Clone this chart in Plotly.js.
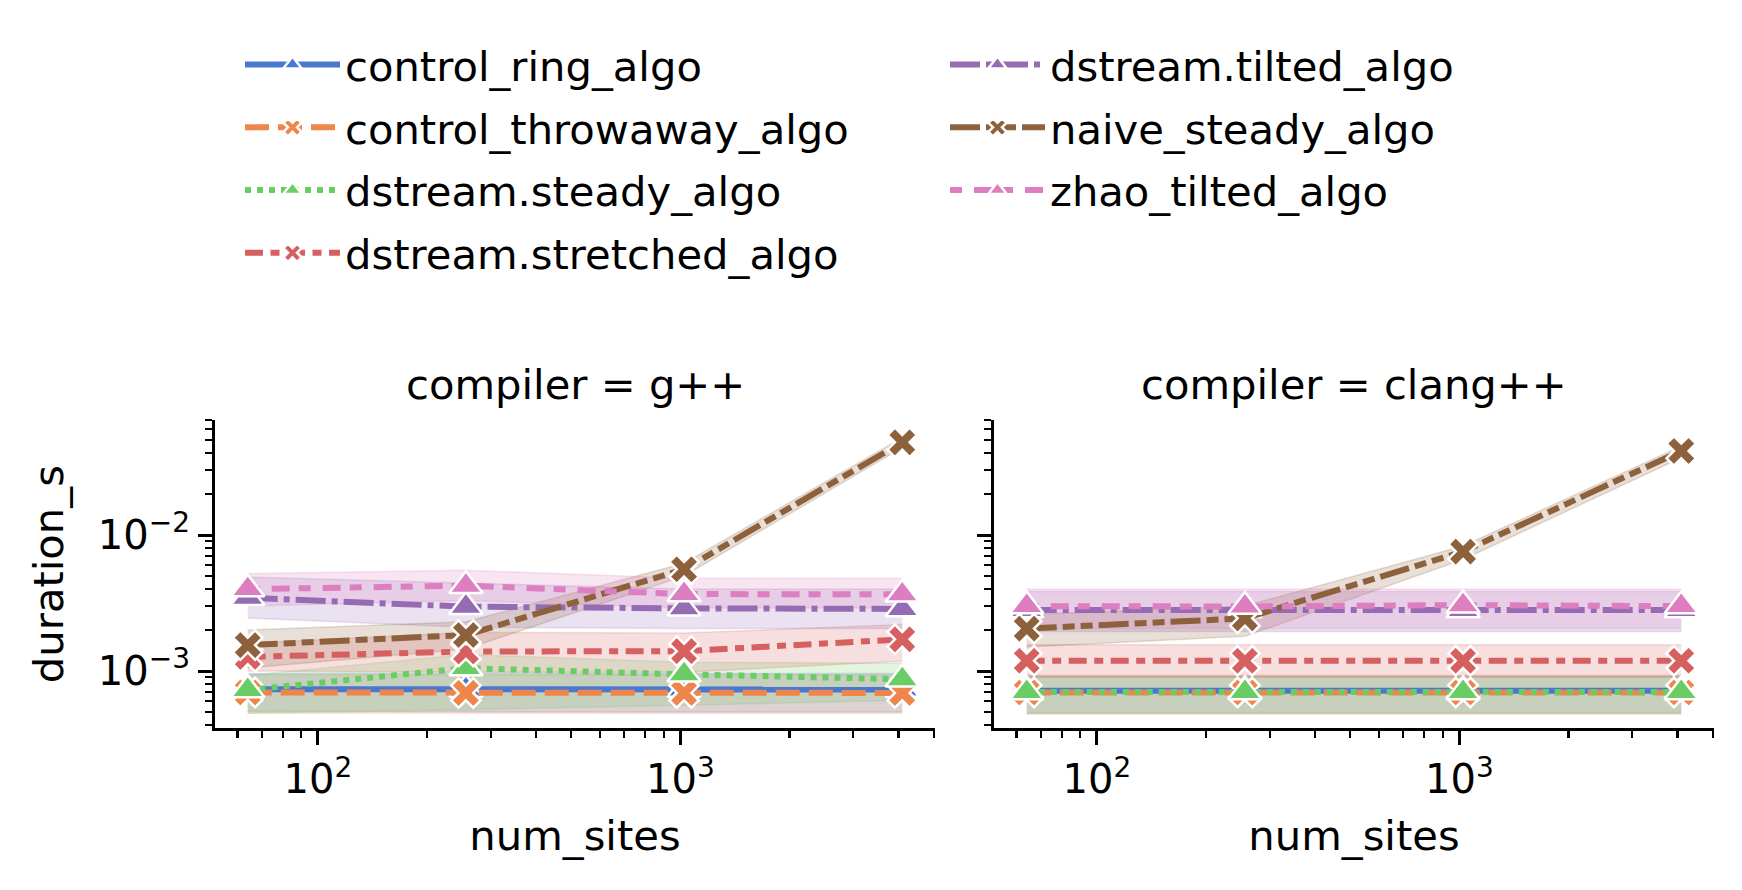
<!DOCTYPE html>
<html>
<head>
<meta charset="utf-8">
<script src="https://cdn.plot.ly/plotly-3.0.1.min.js"></script>
<style>html,body{margin:0;padding:0;background:#fff;}#chart{width:1742px;height:890px;}</style>
</head>
<body>
<div id="chart"></div>
<script>
// ---- data ----
const numSites = [64, 256, 1024, 4096];
const algos = ["control_ring_algo", "control_throwaway_algo", "dstream.steady_algo", "dstream.stretched_algo",
               "dstream.tilted_algo", "naive_steady_algo", "zhao_tilted_algo"];
const compilers = ["g++", "clang++"];

// compiler = g++ : mean duration_s per algo (rows follow algos), per num_sites (cols)
const gppMean = [
  [7.35e-4, 7.3e-4, 7.3e-4, 7.3e-4],
  [6.95e-4, 6.9e-4, 6.9e-4, 6.9e-4],
  [7.25e-4, 1.05e-3, 9.45e-4, 8.7e-4],
  [1.27e-3, 1.39e-3, 1.40e-3, 1.71e-3],
  [3.46e-3, 2.97e-3, 2.89e-3, 2.86e-3],
  [1.55e-3, 1.84e-3, 5.6e-3, 4.8e-2],
  [4.0e-3, 4.24e-3, 3.68e-3, 3.66e-3]
];
const gppLow = [
  [5.05e-4, 5.0e-4, 5.0e-4, 5.0e-4],
  [4.9e-4, 4.9e-4, 4.9e-4, 4.9e-4],
  [4.9e-4, 5.2e-4, 5.6e-4, 6.1e-4],
  [1.0e-3, 9.8e-4, 9.8e-4, 1.18e-3],
  [2.45e-3, 2.1e-3, 2.05e-3, 2.05e-3],
  [1.05e-3, 1.45e-3, 5.0e-3, 4.4e-2],
  [3.0e-3, 3.3e-3, 2.9e-3, 2.9e-3]
];
const gppHigh = [
  [9.6e-4, 9.6e-4, 9.6e-4, 9.6e-4],
  [9.4e-4, 9.4e-4, 9.4e-4, 9.4e-4],
  [9.3e-4, 1.32e-3, 1.16e-3, 1.14e-3],
  [1.6e-3, 1.92e-3, 1.9e-3, 2.2e-3],
  [4.9e-3, 4.4e-3, 4.0e-3, 4.0e-3],
  [2.0e-3, 2.3e-3, 6.2e-3, 5.2e-2],
  [5.2e-3, 5.5e-3, 4.8e-3, 4.8e-3]
];

// compiler = clang++
const clangMean = [
  [7.15e-4, 7.15e-4, 7.15e-4, 7.15e-4],
  [6.95e-4, 6.95e-4, 6.95e-4, 6.95e-4],
  [7.0e-4, 7.0e-4, 7.0e-4, 7.0e-4],
  [1.19e-3, 1.19e-3, 1.19e-3, 1.19e-3],
  [2.81e-3, 2.81e-3, 2.81e-3, 2.81e-3],
  [2.05e-3, 2.44e-3, 7.55e-3, 4.15e-2],
  [3.0e-3, 2.98e-3, 3.05e-3, 3.0e-3]
];
const clangLow = [
  [4.9e-4, 4.9e-4, 4.9e-4, 4.9e-4],
  [4.8e-4, 4.8e-4, 4.8e-4, 4.8e-4],
  [4.95e-4, 4.95e-4, 4.95e-4, 4.95e-4],
  [9.0e-4, 9.0e-4, 9.0e-4, 9.0e-4],
  [1.95e-3, 1.95e-3, 1.95e-3, 1.95e-3],
  [1.5e-3, 1.8e-3, 6.6e-3, 3.7e-2],
  [2.05e-3, 2.05e-3, 2.05e-3, 2.05e-3]
];
const clangHigh = [
  [9.2e-4, 9.2e-4, 9.2e-4, 9.2e-4],
  [9.3e-4, 9.3e-4, 9.3e-4, 9.3e-4],
  [9.0e-4, 9.0e-4, 9.0e-4, 9.0e-4],
  [1.56e-3, 1.56e-3, 1.56e-3, 1.56e-3],
  [3.85e-3, 3.85e-3, 3.85e-3, 3.85e-3],
  [2.6e-3, 3.0e-3, 8.3e-3, 4.5e-2],
  [4.0e-3, 4.0e-3, 4.0e-3, 4.0e-3]
];

// tick labels
const xMajorVals = [100, 1000];
const xMajorText = ["10<sup>2</sup>", "10<sup>3</sup>"];
const yMajorVals = [1e-3, 1e-2];
const yMajorText = ["10<sup>\u22123</sup>", "10<sup>\u22122</sup>"];

// ---- styles ----
const colors = ["#4878D0", "#EE854A", "#6ACC64", "#D65F5F", "#956CB4", "#8C613C", "#DC7EC0"];
const LW = 6;
const dashUnits = [null, [4, 1.5], [1, 1], [3, 1.25, 1.5, 1.25], [5, 1, 1, 1], [5, 1, 2, 1, 2, 1], [2, 2, 3, 1.5]];
const symbols = ["triangle-up", "x", "triangle-up", "x", "triangle-up", "x", "triangle-up"];
const symSize = {"triangle-up": 29, "x": 26};
function dashStr(u) { return u ? u.map(v => (v * LW).toFixed(2) + "px").join(",") : "solid"; }
function rgba(hex, a) {
  const n = parseInt(hex.slice(1), 16);
  return `rgba(${(n >> 16) & 255},${(n >> 8) & 255},${n & 255},${a})`;
}

// minor ticks
function minorTicks(lo, hi) {
  const out = [];
  for (let e = lo; e <= hi; e++) for (let m = 2; m <= 9; m++) out.push(m * Math.pow(10, e));
  return out;
}
const xMinor = minorTicks(1, 3);
const yMinor = minorTicks(-4, -2);

const panels = [
  {mean: gppMean, low: gppLow, high: gppHigh, xa: "x", ya: "y"},
  {mean: clangMean, low: clangLow, high: clangHigh, xa: "x2", ya: "y2"}
];

const traces = [];
// bands first
panels.forEach((p) => {
  algos.forEach((name, i) => {
    traces.push({x: numSites, y: p.low[i], xaxis: p.xa, yaxis: p.ya, type: "scatter", mode: "lines",
      line: {color: rgba(colors[i], 0.2), width: 1.5}, showlegend: false, hoverinfo: "skip"});
    traces.push({x: numSites, y: p.high[i], xaxis: p.xa, yaxis: p.ya, type: "scatter", mode: "lines",
      fill: "tonexty", fillcolor: rgba(colors[i], 0.2),
      line: {color: rgba(colors[i], 0.2), width: 1.5}, showlegend: false, hoverinfo: "skip"});
  });
});
// lines with markers
panels.forEach((p, pi) => {
  algos.forEach((name, i) => {
    traces.push({
      x: numSites, y: p.mean[i], xaxis: p.xa, yaxis: p.ya, type: "scatter", mode: "lines+markers",
      name: name, legendgroup: name, showlegend: pi === 0,
      legend: i < 4 ? "legend" : "legend2",
      line: {color: colors[i], width: LW, dash: dashStr(dashUnits[i])},
      marker: {symbol: symbols[i], size: symSize[symbols[i]], color: colors[i], line: {color: "#ffffff", width: 2.5}},
      cliponaxis: false
    });
  });
});

const W = 1742, H = 890;
const FS = 41.7, TFS = 40;
const font = "DejaVu Sans, Liberation Sans, sans-serif";

function xaxisBase(domain, anchor) {
  return {
    type: "log", domain: domain, anchor: anchor, range: [1.7159, 3.7027],
    showline: true, linecolor: "#000", linewidth: 3, mirror: false,
    showgrid: false, zeroline: false,
    ticks: "outside", ticklen: 14, tickwidth: 3, tickcolor: "#000",
    tickmode: "array", tickvals: xMajorVals, ticktext: xMajorText,
    tickfont: {family: font, size: TFS, color: "#000"},
    minor: {tickmode: "array", tickvals: xMinor, ticks: "outside", ticklen: 7, tickwidth: 2.2, tickcolor: "#000", showgrid: false},
    title: {text: "num_sites", font: {family: font, size: FS, color: "#000"}, standoff: 20},
    automargin: false
  };
}
function yaxisBase(anchor, showLabels) {
  return {
    type: "log", domain: [1 - 728.3 / H, 1 - 420 / H], anchor: anchor, range: [-3.4213, -1.1544],
    showline: true, linecolor: "#000", linewidth: 3, mirror: false,
    showgrid: false, zeroline: false,
    ticks: "outside", ticklen: 14, tickwidth: 3, tickcolor: "#000",
    tickmode: "array", tickvals: yMajorVals, ticktext: yMajorText, showticklabels: showLabels,
    tickfont: {family: font, size: TFS, color: "#000"},
    minor: {tickmode: "array", tickvals: yMinor, ticks: "outside", ticklen: 7, tickwidth: 2.2, tickcolor: "#000", showgrid: false},
    automargin: false
  };
}

const yaxis = yaxisBase("x", true);
yaxis.title = {text: "duration_s", font: {family: font, size: FS, color: "#000"}, standoff: 22};
const yaxis2 = yaxisBase("x2", false);
yaxis2.matches = "y";

const legendCommon = {
  orientation: "v", xanchor: "left", yanchor: "top",
  font: {family: font, size: FS, color: "#000"}, bgcolor: "rgba(0,0,0,0)", borderwidth: 0,
  tracegroupgap: 5.5, itemwidth: 95, itemclick: false, itemdoubleclick: false
};

const layout = {
  width: W, height: H,
  margin: {l: 0, r: 0, t: 0, b: 0, pad: 0},
  paper_bgcolor: "#fff", plot_bgcolor: "rgba(0,0,0,0)",
  font: {family: font, color: "#000"},
  showlegend: true,
  xaxis: xaxisBase([215 / W, 935 / W], "y"),
  yaxis: yaxis,
  xaxis2: xaxisBase([994 / W, 1714 / W], "y2"),
  yaxis2: yaxis2,
  legend: Object.assign({}, legendCommon, {x: 240 / W, y: 1 - 31 / H}),
  legend2: Object.assign({}, legendCommon, {x: 945 / W, y: 1 - 31 / H}),
  annotations: [
    {text: "compiler = " + compilers[0], xref: "paper", yref: "paper", x: 575 / W, y: 1 - 384 / H,
     xanchor: "center", yanchor: "middle", showarrow: false, font: {family: font, size: FS, color: "#000"}},
    {text: "compiler = " + compilers[1], xref: "paper", yref: "paper", x: 1354 / W, y: 1 - 384 / H,
     xanchor: "center", yanchor: "middle", showarrow: false, font: {family: font, size: FS, color: "#000"}}
  ]
};

Plotly.newPlot("chart", traces, layout, {staticPlot: true, displayModeBar: false});
</script>
</body>
</html>
